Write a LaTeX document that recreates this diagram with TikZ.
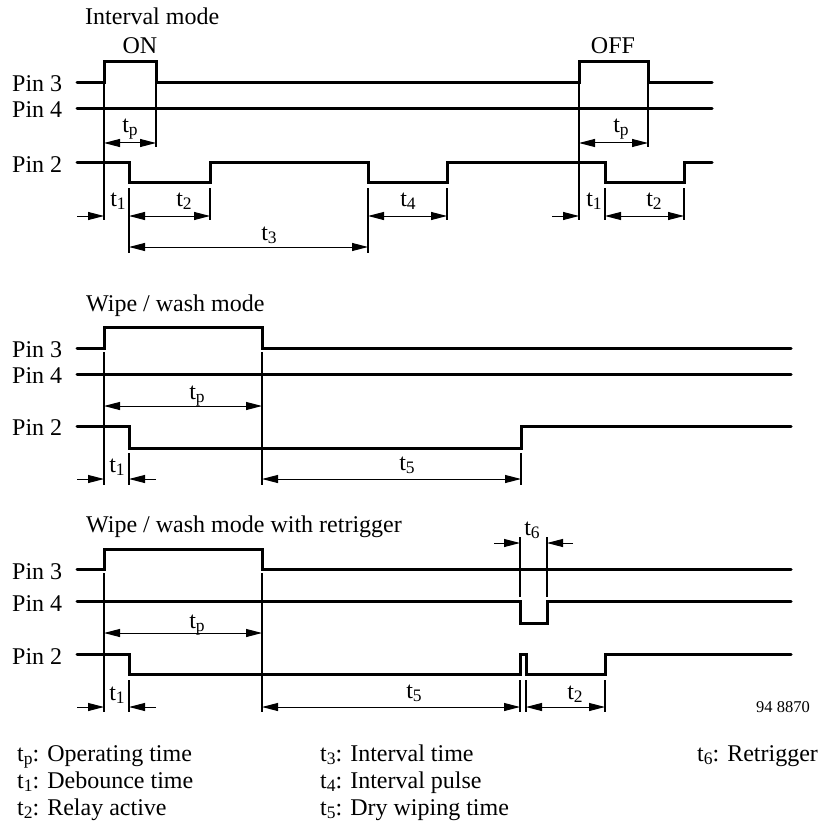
\documentclass[tikz,border=0pt]{standalone}
\usepackage{fontspec}
\setmainfont{Liberation Serif}
\usetikzlibrary{arrows.meta}
\newcommand\tsb[1]{t\raisebox{-3pt}{\fontsize{17.5}{18}\selectfont #1}}
\begin{document}
\begin{tikzpicture}[x=1pt,y=-1pt,
  txt/.style={font=\fontsize{24}{28}\selectfont, inner sep=0pt},
  lab/.style={txt, anchor=base},
  pinlab/.style={txt, anchor=base west},
  sig/.style={line width=3pt, line cap=round, line join=miter},
  ext/.style={line width=1.2pt},
  dim/.style={line width=1pt},
  both/.style={dim, {Triangle[length=16pt,width=8pt]}-{Triangle[length=16pt,width=8pt]}},
  one/.style={dim, -{Triangle[length=16pt,width=8pt]}}]
\useasboundingbox (0,0) rectangle (819,821);

% ---------------- Interval mode ----------------
\node[pinlab] (t1) at (85,25) {Interval mode};
\node[lab] (on) at (140,54) {ON};
\node[lab] (off) at (613,54) {OFF};
\node[pinlab] (a3) at (12,92) {Pin 3};
\node[pinlab] (a4) at (12,118) {Pin 4};
\node[pinlab] (a2) at (12,172) {Pin 2};

\draw[sig] (77,83) -- (104,83) -- (104,62) -- (156,62) -- (156,83) -- (579,83) -- (579,62) -- (648,62) -- (648,83) -- (712,83);
\draw[sig] (77,109) -- (712,109);
\draw[sig] (77,163) -- (129,163) -- (129,183) -- (210,183) -- (210,163) -- (368,163) -- (368,183) -- (447,183) -- (447,163) -- (605,163) -- (605,183) -- (684,183) -- (684,163) -- (712,163);

\draw[ext] (104,84) -- (104,220);
\draw[ext] (156,84) -- (156,147);
\draw[ext] (129,188) -- (129,253);
\draw[ext] (210,188) -- (210,220);
\draw[ext] (368,188) -- (368,253);
\draw[ext] (447,188) -- (447,220);
\draw[ext] (579,84) -- (579,220);
\draw[ext] (648,84) -- (648,147);
\draw[ext] (605,188) -- (605,220);
\draw[ext] (684,188) -- (684,220);

\draw[both] (104,143) -- (156,143);
\draw[one] (77,216) -- (104,216);
\draw[both] (129,216) -- (210,216);
\draw[both] (129,247) -- (368,247);
\draw[both] (368,216) -- (447,216);
\draw[both] (579,143) -- (648,143);
\draw[one] (552,216) -- (579,216);
\draw[both] (605,216) -- (684,216);

\node[lab] (ia) at (130,133) {\tsb{p}};
\node[lab] (ib) at (118,206) {\tsb{1}};
\node[lab] (ic) at (184,206) {\tsb{2}};
\node[lab] (id) at (269,240) {\tsb{3}};
\node[lab] (ie) at (408,206) {\tsb{4}};
\node[lab] (iff) at (621,133) {\tsb{p}};
\node[lab] (ig) at (594,206) {\tsb{1}};
\node[lab] (ih) at (654,206) {\tsb{2}};

% ---------------- Wipe / wash mode ----------------
\node[pinlab] (t2) at (86,311) {Wipe / wash mode};
\node[pinlab] (b3) at (12,357) {Pin 3};
\node[pinlab] (b4) at (12,383) {Pin 4};
\node[pinlab] (b2) at (12,435) {Pin 2};

\draw[sig] (77,348) -- (104,348) -- (104,327) -- (262,327) -- (262,348) -- (791,348);
\draw[sig] (77,374) -- (791,374);
\draw[sig] (77,426) -- (129,426) -- (129,448) -- (521,448) -- (521,426) -- (791,426);

\draw[ext] (104,352) -- (104,485);
\draw[ext] (262,352) -- (262,485);
\draw[ext] (129,453) -- (129,485);
\draw[ext] (521,453) -- (521,485);

\draw[both] (104,406) -- (262,406);
\draw[one] (77,479) -- (104,479);
\draw[one] (156,479) -- (129,479);
\draw[both] (262,479) -- (521,479);

\node[lab] (wa) at (197,399) {\tsb{p}};
\node[lab] (wb) at (117,472) {\tsb{1}};
\node[lab] (wc) at (407,470) {\tsb{5}};

% ---------------- Wipe / wash mode with retrigger ----------------
\node[pinlab] (t3) at (86,532) {Wipe / wash mode with retrigger};
\node[pinlab] (c3) at (12,579) {Pin 3};
\node[pinlab] (c4) at (12,611) {Pin 4};
\node[pinlab] (c2) at (12,664) {Pin 2};

\draw[sig] (77,569) -- (104,569) -- (104,549) -- (262,549) -- (262,569) -- (791,569);
\draw[sig] (77,601) -- (520,601) -- (520,623) -- (547,623) -- (547,601) -- (791,601);
\draw[sig] (77,654) -- (129,654) -- (129,674) -- (520,674) -- (520,654) -- (526,654) -- (526,674) -- (605,674) -- (605,654) -- (791,654);

\draw[ext] (104,573) -- (104,712);
\draw[ext] (262,573) -- (262,712);
\draw[ext] (129,680) -- (129,712);
\draw[ext] (520,680) -- (520,712);
\draw[ext] (526,680) -- (526,712);
\draw[ext] (605,680) -- (605,712);
\draw[ext] (520,537) -- (520,597);
\draw[ext] (547,537) -- (547,597);

\draw[both] (104,633) -- (262,633);
\draw[one] (77,707) -- (104,707);
\draw[one] (156,707) -- (129,707);
\draw[both] (262,707) -- (520,707);
\draw[both] (526,707) -- (605,707);
\draw[one] (494,543) -- (520,543);
\draw[one] (573,543) -- (547,543);

\node[lab] (ra) at (197,628) {\tsb{p}};
\node[lab] (rb) at (117,700) {\tsb{1}};
\node[lab] (rc) at (414,698) {\tsb{5}};
\node[lab] (rd) at (575,699) {\tsb{2}};
\node[lab] (re) at (532,535) {\tsb{6}};

\node[txt, anchor=base east, font=\fontsize{16.5}{18}\selectfont] (code) at (810,712) {94 8870};

% ---------------- Legend ----------------
\node[pinlab] (l1) at (17,761) {\tsb{p}: Operating time};
\node[pinlab] (l2) at (17,788) {\tsb{1}: Debounce time};
\node[pinlab] (l3) at (17,815) {\tsb{2}: Relay active};
\node[pinlab] (l4) at (320,761) {\tsb{3}: Interval time};
\node[pinlab] (l5) at (320,788) {\tsb{4}: Interval pulse};
\node[pinlab] (l6) at (320,815) {\tsb{5}: Dry wiping time};
\node[pinlab] (l7) at (697,761) {\tsb{6}: Retrigger};
\end{tikzpicture}
\end{document}
